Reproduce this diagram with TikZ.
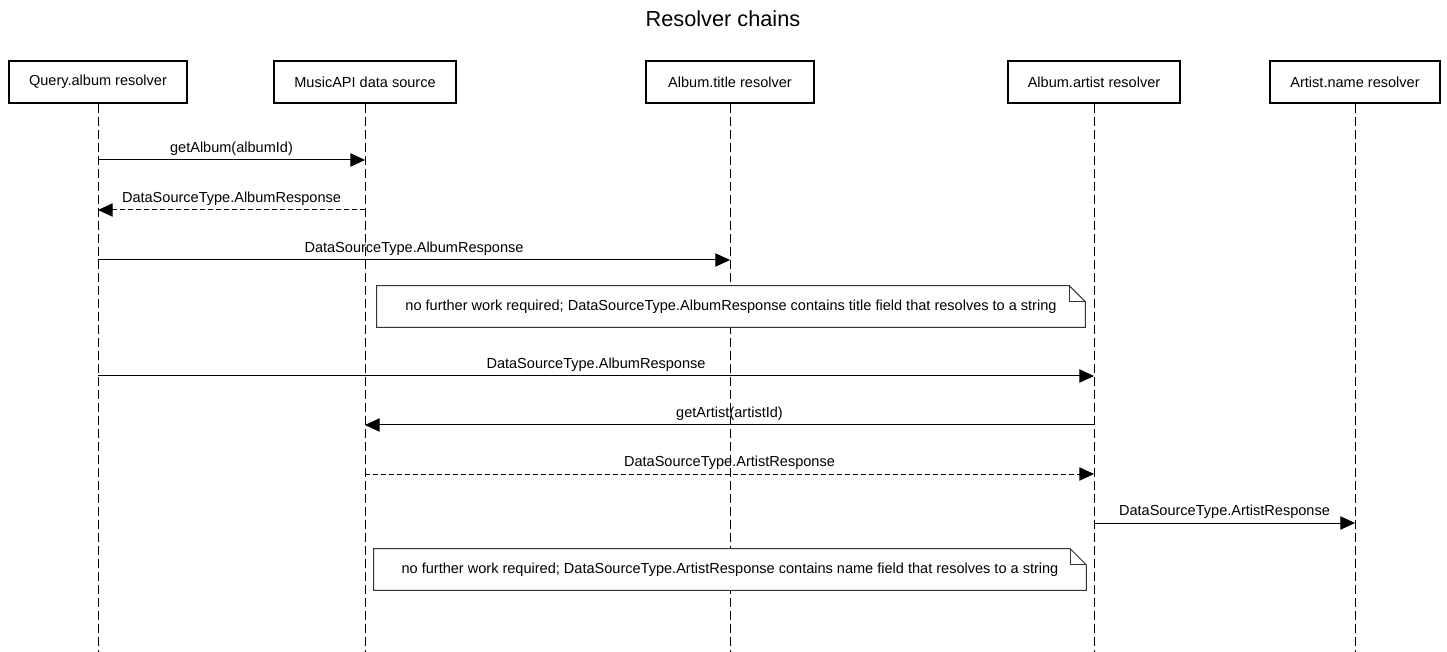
\documentclass[tikz,border=0pt]{standalone}
\usepackage{fontspec}
\setmainfont{Liberation Sans}
\usetikzlibrary{arrows.meta}

\tikzset{
  actor/.style={draw, line width=1.5pt, minimum height=31pt, minimum width=126pt, inner xsep=15pt, font=\fontsize{10.9}{13}\selectfont},
  lifeline/.style={line width=0.75pt, dash pattern=on 6.75pt off 3pt},
  call/.style={line width=0.75pt, -{Triangle[length=11pt,width=10pt]}},
  reply/.style={call, dash pattern=on 3.5pt off 2.5pt},
  msglabel/.style={font=\fontsize{10.9}{13}\selectfont, inner sep=0pt, anchor=base, yshift=5.5pt},
  notetext/.style={fill=white, minimum height=30.75pt, font=\fontsize{10.9}{13}\selectfont},
  notebox/.style={draw=black!80, line width=0.75pt},
}

\begin{document}
\begin{tikzpicture}[x=0.75pt,y=0.75pt,yscale=-1,xscale=1]
\useasboundingbox (0,0) rectangle (1447,652);

% Title
\node (title) at (723,19) {\fontsize{16.3}{19}\selectfont Resolver chains};

% Participants
\node[actor] (qa) at (98,82) {Query.album resolver};
\node[actor] (ms) at (365,82) {MusicAPI data source};
\node[actor] (at) at (730,82) {Album.title resolver};
\node[actor] (aa) at (1094,82) {Album.artist resolver};
\node[actor] (an) at (1355,82) {Artist.name resolver};

% Lifelines
\foreach \p in {qa,ms,at,aa,an}
  \draw[lifeline] (\p.south) -- (\p.south |- 0,652);

% Messages
\draw[call] (qa.south |- 0,160) -- node[msglabel] {getAlbum(albumId)} (ms.south |- 0,160);
\draw[reply] (ms.south |- 0,210) -- node[msglabel] {DataSourceType.AlbumResponse} (qa.south |- 0,210);
\draw[call] (qa.south |- 0,260) -- node[msglabel] {DataSourceType.AlbumResponse} (at.south |- 0,260);

% Note
\node[notetext, minimum width=531pt] (note1) at (731,306.5) {no further work required; DataSourceType.AlbumResponse contains title field that resolves to a string};
\draw[notebox] (note1.north west) -- ([xshift=-12pt]note1.north east) -- ([yshift=12pt]note1.north east) -- (note1.south east) -- (note1.south west) -- cycle;
\draw[notebox] ([xshift=-12pt]note1.north east) |- ([yshift=12pt]note1.north east);

\draw[call] (qa.south |- 0,376) -- node[msglabel] {DataSourceType.AlbumResponse} (aa.south |- 0,376);
\draw[call] (aa.south |- 0,425) -- node[msglabel] {getArtist(artistId)} (ms.south |- 0,425);
\draw[reply] (ms.south |- 0,474) -- node[msglabel] {DataSourceType.ArtistResponse} (aa.south |- 0,474);
\draw[call] (aa.south |- 0,523) -- node[msglabel] {DataSourceType.ArtistResponse} (an.south |- 0,523);

% Note
\node[notetext, minimum width=534pt] (note2) at (730,569.5) {no further work required; DataSourceType.ArtistResponse contains name field that resolves to a string};
\draw[notebox] (note2.north west) -- ([xshift=-12pt]note2.north east) -- ([yshift=12pt]note2.north east) -- (note2.south east) -- (note2.south west) -- cycle;
\draw[notebox] ([xshift=-12pt]note2.north east) |- ([yshift=12pt]note2.north east);

\end{tikzpicture}
\end{document}
